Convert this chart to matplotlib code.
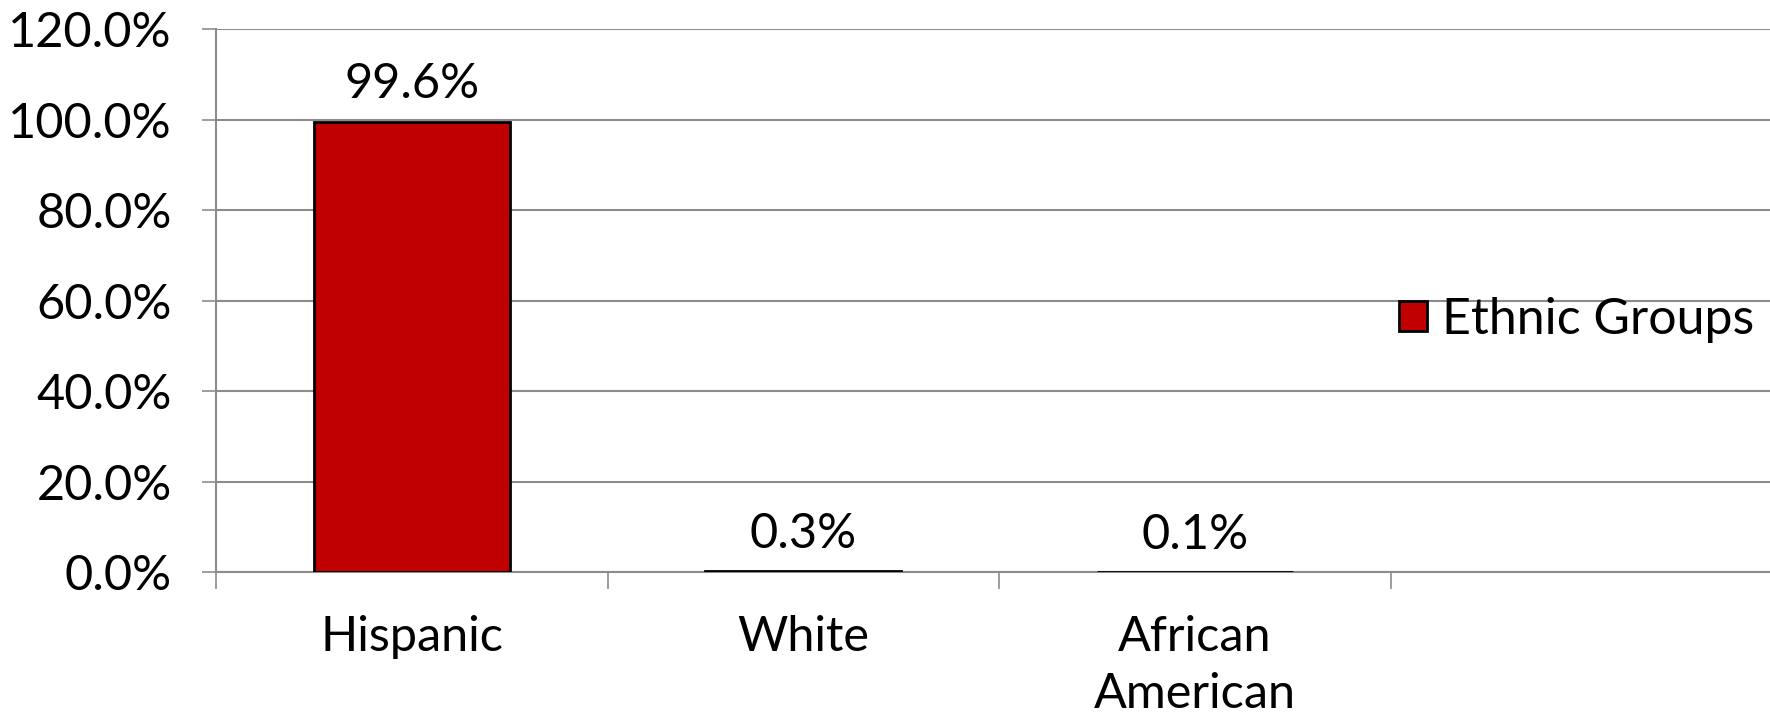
import matplotlib
matplotlib.use('Agg')
import matplotlib.pyplot as plt
from matplotlib.patches import Patch
import numpy as np

# Data
categories = ['Hispanic', 'White', 'African\nAmerican', '']
values = [99.6, 0.3, 0.1, np.nan]
value_labels = ['99.6%', '0.3%', '0.1%']
y_ticks = [0, 20, 40, 60, 80, 100, 120]
series_name = 'Ethnic Groups'

plt.rcParams['font.family'] = ['Lato', 'DejaVu Sans']
FS = 35
GRID = '#8c8c8c'

W, H = 1770, 713
fig = plt.figure(figsize=(W / 100, H / 100), dpi=100)
left, right, top, bottom = 216, 1782, 29.3, 572.3
ax = fig.add_axes([left / W, 1 - bottom / H, (right - left) / W, (bottom - top) / H])

x = np.arange(len(categories))
bars = ax.bar(x, values, width=0.5, color='#C00000', edgecolor='black', linewidth=2, zorder=3)

for i, lab in enumerate(value_labels):
    ax.annotate(lab, (x[i], values[i]), xytext=(0, 11), textcoords='offset points',
                ha='center', va='bottom', fontsize=FS)

ax.set_xlim(-0.5, len(categories) - 0.5)
ax.set_ylim(0, 120)
ax.set_yticks(y_ticks)
ax.set_yticklabels([f'{v:.1f}%' for v in y_ticks], fontsize=FS)
ax.yaxis.grid(True, color=GRID, linewidth=1.5, zorder=0)
ax.tick_params(axis='y', length=10, width=1.2, color=GRID, pad=22)

# category boundaries as ticks, labels at centres
ax.set_xticks(np.arange(len(categories) + 1) - 0.5)
ax.set_xticklabels([])
ax.set_xticks(x, minor=True)
ax.set_xticklabels(categories, minor=True, fontsize=FS, linespacing=1.35)
ax.tick_params(axis='x', which='major', length=12, width=1.2, color=GRID)
ax.tick_params(axis='x', which='minor', length=0, pad=31)

for s in ['top', 'right']:
    ax.spines[s].set_visible(False)
ax.spines['left'].set_color(GRID)
ax.spines['bottom'].set_color(GRID)
ax.spines['left'].set_linewidth(1.5)
ax.spines['bottom'].set_linewidth(1.5)

handle = Patch(facecolor='#C00000', edgecolor='black', linewidth=2)
fig.legend([handle], [series_name], loc='center left',
           bbox_to_anchor=(1374 / W, 1 - 320 / H), frameon=False, fontsize=FS + 1,
           handlelength=0.55, handleheight=0.55, handletextpad=0.3, borderpad=0)

fig.savefig('out.png', dpi=100)
